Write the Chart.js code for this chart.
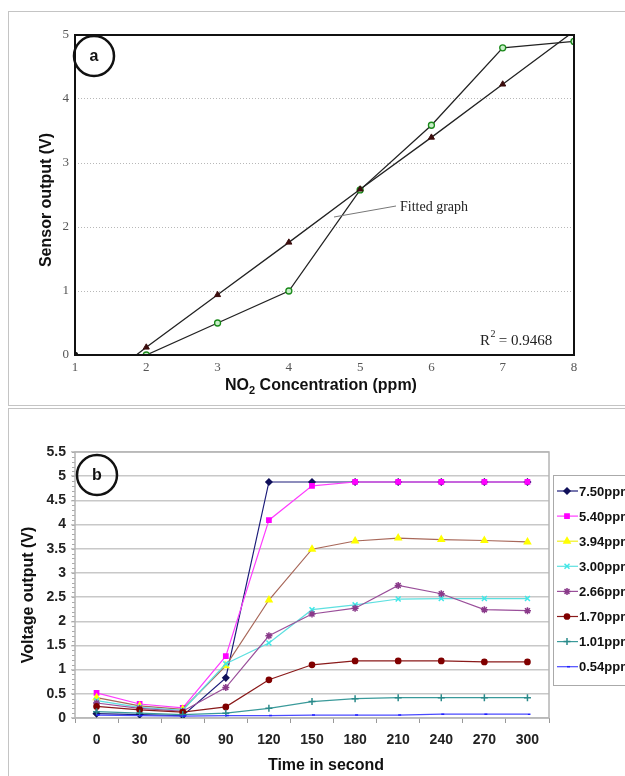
<!DOCTYPE html>
<html>
<head>
<meta charset="utf-8">
<script src="https://cdn.jsdelivr.net/npm/chart.js"></script>
<style>
  body { margin: 0; background: #fff; width: 625px; height: 776px; overflow: hidden; position: relative; }
  .panel { position: absolute; border: 1px solid #c4c4c4; box-sizing: border-box; }
  #panelA { left: 8px; top: 11px; width: 640px; height: 395px; }
  #panelB { left: 8px; top: 408px; width: 640px; height: 400px; }
  canvas { position: absolute; left: 0; }
  #chartA { top: 0; }
  #chartB { top: 407px; }
</style>
</head>
<body>
<div class="panel" id="panelA"></div>
<div class="panel" id="panelB"></div>
<canvas id="chartA" width="625" height="405"></canvas>
<canvas id="chartB" width="625" height="369"></canvas>
<script>
// (a) sensor output vs NO2 concentration
const concentration = [1, 2, 3, 4, 5, 6, 7, 8];
const sensorOutput = [0, 0, 0.5, 1.0, 2.58, 3.59, 4.8, 4.9];
const fitX = [1.86, 2, 3, 4, 5, 6, 7, 7.93];
const fitY = [0, 0.12, 0.94, 1.76, 2.59, 3.4, 4.23, 5.0];
const rSquared = '0.9468';

// (b) voltage output vs time
const timeLabels = ['0', '30', '60', '90', '120', '150', '180', '210', '240', '270', '300'];
const seriesNames = ['7.50ppm', '5.40ppm', '3.94ppm', '3.00ppm', '2.66ppm', '1.70ppm', '1.01ppm', '0.54ppm'];
const v750 = [0.09, 0.07, 0.05, 0.83, 4.88, 4.88, 4.88, 4.88, 4.88, 4.88, 4.88];
const v540 = [0.52, 0.29, 0.21, 1.28, 4.09, 4.8, 4.88, 4.88, 4.88, 4.88, 4.88];
const v394 = [0.42, 0.25, 0.18, 1.08, 2.44, 3.49, 3.66, 3.72, 3.69, 3.67, 3.64];
const v300 = [0.36, 0.22, 0.16, 1.12, 1.55, 2.24, 2.34, 2.46, 2.47, 2.47, 2.47];
const v266 = [0.31, 0.2, 0.14, 0.63, 1.7, 2.15, 2.27, 2.74, 2.57, 2.24, 2.22];
const v170 = [0.24, 0.17, 0.12, 0.23, 0.79, 1.1, 1.18, 1.18, 1.18, 1.16, 1.16];
const v101 = [0.13, 0.1, 0.07, 0.1, 0.2, 0.34, 0.4, 0.42, 0.42, 0.42, 0.42];
const v054 = [0.06, 0.05, 0.04, 0.05, 0.05, 0.06, 0.06, 0.06, 0.08, 0.08, 0.08];
const seriesValues = [v750, v540, v394, v300, v266, v170, v101, v054];

// styles
const SANS = '"Liberation Sans", Arial, sans-serif';
const SERIF = '"Liberation Serif", "Times New Roman", serif';
const lineColors = ['#1c1c7a', '#ff3cff', '#a8685a', '#5ee0e0', '#9a4f9a', '#8a1a1a', '#3a9a9a', '#4a4aff'];
const legendLineColors = ['#1c1c7a', '#ff3cff', '#f0f020', '#5ee0e0', '#9a4f9a', '#8a1a1a', '#3a9a9a', '#4a4aff'];
const markerColors = ['#10105a', '#ff00ff', '#ffff00', '#40e8e8', '#8a3a8a', '#800000', '#2a8a8a', '#2020ff'];
const markerStyles = ['rectRot', 'rect', 'triangle', 'crossRot', 'star', 'circle', 'cross', 'dash'];
const markerSizes = [3, 3, 3.5, 3.5, 3.5, 2.6, 3.5, 3];

function circleLabel(ctx, x, y, r, text) {
    ctx.save();
    ctx.beginPath();
    ctx.arc(x, y, r, 0, Math.PI * 2);
    ctx.lineWidth = 2.5;
    ctx.strokeStyle = '#111';
    ctx.stroke();
    ctx.fillStyle = '#111';
    ctx.font = 'bold 16px ' + SANS;
    ctx.textAlign = 'center';
    ctx.textBaseline = 'middle';
    ctx.fillText(text, x, y + 1);
    ctx.restore();
}

const decorA = {
    id: 'decorA',
    afterDraw(chart) {
        const { ctx, chartArea: a } = chart;
        ctx.save();
        // plot frame
        ctx.strokeStyle = '#111';
        ctx.lineWidth = 2;
        ctx.strokeRect(a.left, a.top, a.right - a.left, a.bottom - a.top);

        circleLabel(ctx, 94, 56, 20, 'a');

        // y title
        ctx.fillStyle = '#111';
        ctx.font = 'bold 16px ' + SANS;
        ctx.textAlign = 'center';
        ctx.textBaseline = 'middle';
        ctx.save();
        ctx.translate(47, 200);
        ctx.rotate(-Math.PI / 2);
        ctx.fillText('Sensor output (V)', 0, 0);
        ctx.restore();

        // x title with subscript
        const p1 = 'NO', p2 = '2', p3 = ' Concentration (ppm)';
        ctx.font = 'bold 16px ' + SANS;
        const w1 = ctx.measureText(p1).width, w3 = ctx.measureText(p3).width;
        ctx.font = 'bold 11px ' + SANS;
        const w2 = ctx.measureText(p2).width;
        let x = 321 - (w1 + w2 + w3) / 2;
        ctx.textAlign = 'left';
        ctx.textBaseline = 'alphabetic';
        ctx.font = 'bold 16px ' + SANS;
        ctx.fillText(p1, x, 390);
        ctx.font = 'bold 11px ' + SANS;
        ctx.fillText(p2, x + w1, 394);
        ctx.font = 'bold 16px ' + SANS;
        ctx.fillText(p3, x + w1 + w2, 390);

        // fitted graph note
        ctx.strokeStyle = '#777';
        ctx.lineWidth = 1;
        ctx.beginPath();
        ctx.moveTo(396, 206);
        ctx.lineTo(334, 217);
        ctx.stroke();
        ctx.fillStyle = '#222';
        ctx.font = '14px ' + SERIF;
        ctx.textBaseline = 'middle';
        ctx.fillText('Fitted graph', 400, 207);

        // R squared
        ctx.textBaseline = 'alphabetic';
        ctx.font = '15px ' + SERIF;
        ctx.fillText('R', 480, 345);
        const rw = ctx.measureText('R').width;
        ctx.font = '10px ' + SERIF;
        ctx.fillText('2', 480 + rw + 0.5, 337);
        ctx.font = '15px ' + SERIF;
        ctx.fillText(' = ' + rSquared, 480 + rw + 5, 345);
        ctx.restore();
    }
};

new Chart(document.getElementById('chartA'), {
    type: 'line',
    data: {
        datasets: [{
            label: 'Fitted',
            data: fitX.map((x, i) => ({ x: x, y: fitY[i] })),
            borderColor: '#222',
            borderWidth: 1.3,
            pointStyle: 'triangle',
            pointRadius: fitX.map((x, i) => (i === 0 || i === fitX.length - 1) ? 0 : 3.5),
            pointBackgroundColor: '#3b0d0d',
            pointBorderColor: '#3b0d0d',
            pointBorderWidth: 1
        }, {
            label: 'Measured',
            data: concentration.map((x, i) => ({ x: x, y: sensorOutput[i] })),
            borderColor: '#222',
            borderWidth: 1.3,
            pointRadius: concentration.map((x, i) => i === 0 ? 2.5 : 3),
            pointBackgroundColor: concentration.map((x, i) => i === 0 ? '#111' : '#c8eec8'),
            pointBorderColor: concentration.map((x, i) => i === 0 ? '#111' : '#1b8a1b'),
            pointBorderWidth: 1.3
        }]
    },
    options: {
        responsive: false,
        animation: false,
        layout: { padding: { left: 0, top: 35, right: 51, bottom: 0 } },
        plugins: { legend: { display: false }, tooltip: { enabled: false } },
        scales: {
            x: {
                type: 'linear', min: 1, max: 8,
                afterFit: s => { s.height = 50; },
                grid: { display: false, drawTicks: false },
                border: { display: false },
                ticks: { stepSize: 1, padding: 5, color: '#555', font: { family: SERIF, size: 13 } }
            },
            y: {
                min: 0, max: 5,
                afterFit: s => { s.width = 75; },
                grid: { color: '#b8b8b8', lineWidth: 1, drawTicks: false },
                border: { display: false, dash: [1, 2] },
                ticks: { stepSize: 1, padding: 6, color: '#555', font: { family: SERIF, size: 13 } }
            }
        }
    },
    plugins: [decorA]
});

const decorB = {
    id: 'decorB',
    beforeDatasetsDraw(chart) {
        const { ctx, chartArea: a } = chart;
        const y = chart.scales.y;
        ctx.save();
        // minor ticks on the value axis
        ctx.strokeStyle = '#aaa';
        ctx.lineWidth = 1;
        for (let i = 0; i <= 55; i++) {
            const py = Math.round(y.getPixelForValue(i / 10)) + 0.5;
            ctx.beginPath();
            ctx.moveTo(a.left - 3, py);
            ctx.lineTo(a.left, py);
            ctx.stroke();
        }
        // plot frame
        ctx.strokeStyle = '#b4b4b4';
        ctx.lineWidth = 1.5;
        ctx.strokeRect(a.left, a.top, a.right - a.left, a.bottom - a.top);
        ctx.restore();
    },
    afterDraw(chart) {
        const { ctx } = chart;
        ctx.save();
        circleLabel(ctx, 97, 68, 20, 'b');

        ctx.fillStyle = '#111';
        ctx.font = 'bold 16px ' + SANS;
        ctx.textAlign = 'center';
        ctx.textBaseline = 'middle';
        ctx.fillText('Time in second', 326, 359);
        ctx.save();
        ctx.translate(29, 188);
        ctx.rotate(-Math.PI / 2);
        ctx.fillText('Voltage output (V)', 0, 0);
        ctx.restore();

        // legend
        ctx.strokeStyle = '#aaa';
        ctx.lineWidth = 1;
        ctx.strokeRect(553.5, 68.5, 90, 210);
        ctx.textAlign = 'left';
        ctx.font = 'bold 13px ' + SANS;
        seriesNames.forEach((name, i) => {
            const ly = 84 + i * 25.1;
            ctx.strokeStyle = legendLineColors[i];
            ctx.lineWidth = 1.2;
            ctx.beginPath();
            ctx.moveTo(557, ly);
            ctx.lineTo(578, ly);
            ctx.stroke();
            ctx.fillStyle = markerColors[i];
            ctx.strokeStyle = markerColors[i];
            ctx.lineWidth = 1.5;
            Chart.helpers.drawPoint(ctx, { pointStyle: markerStyles[i], radius: markerSizes[i], borderWidth: 1.5, rotation: 0 }, 567, ly);
            ctx.fillStyle = '#111';
            ctx.fillText(name, 579, ly + 1);
        });
        ctx.restore();
    }
};

new Chart(document.getElementById('chartB'), {
    type: 'line',
    data: {
        labels: timeLabels,
        datasets: seriesNames.map((name, i) => ({
            label: name,
            data: seriesValues[i],
            order: seriesNames.length - i,
            borderColor: lineColors[i],
            borderWidth: 1.2,
            pointStyle: markerStyles[i],
            pointRadius: markerSizes[i],
            pointBorderWidth: 1.5,
            pointBackgroundColor: markerColors[i],
            pointBorderColor: markerColors[i]
        }))
    },
    options: {
        responsive: false,
        animation: false,
        layout: { padding: { left: 0, top: 45, right: 76, bottom: 0 } },
        plugins: { legend: { display: false }, tooltip: { enabled: false } },
        scales: {
            x: {
                type: 'category', offset: true,
                afterFit: s => { s.height = 58; },
                grid: { offset: true, drawOnChartArea: false, tickLength: 5, color: '#999' },
                border: { display: false },
                ticks: { padding: 9, color: '#222', font: { family: SANS, size: 14, weight: 'bold' } }
            },
            y: {
                min: 0, max: 5.5,
                afterFit: s => { s.width = 75; },
                grid: { color: '#c8c8c8', lineWidth: 1.5, tickLength: 4 },
                border: { display: false },
                ticks: {
                    stepSize: 0.5, padding: 5, color: '#222',
                    font: { family: SANS, size: 14, weight: 'bold' },
                    callback: v => String(Math.round(v * 10) / 10)
                }
            }
        }
    },
    plugins: [decorB]
});
</script>
</body>
</html>
